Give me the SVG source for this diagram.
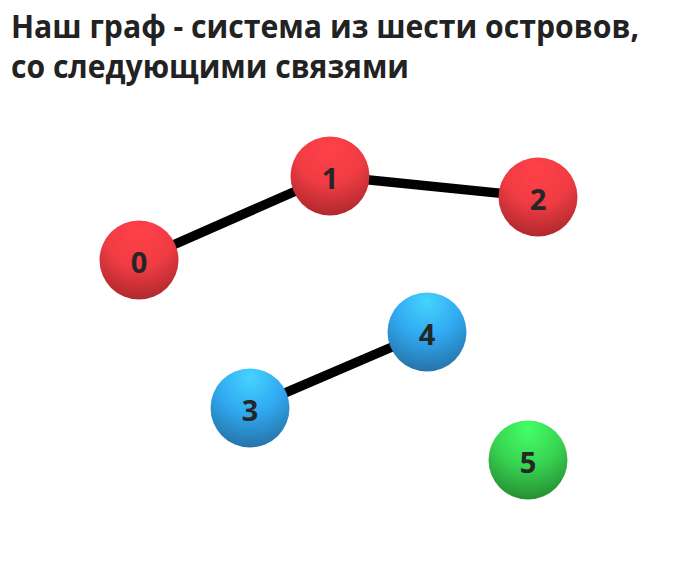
<svg xmlns="http://www.w3.org/2000/svg" width="696" height="564" viewBox="0 0 696 564">
<defs>
<radialGradient id="gRed" cx="0.5" cy="0.2" r="0.85" fx="0.5" fy="0.15">
<stop offset="0" stop-color="#ff4048"/>
<stop offset="0.5" stop-color="#f03c44"/>
<stop offset="1" stop-color="#a8262a"/>
</radialGradient>
<radialGradient id="gBlue" cx="0.5" cy="0.2" r="0.85" fx="0.5" fy="0.1">
<stop offset="0" stop-color="#45d4ff"/>
<stop offset="0.5" stop-color="#30a8f0"/>
<stop offset="1" stop-color="#246ea0"/>
</radialGradient>
<radialGradient id="gGreen" cx="0.5" cy="0.2" r="0.85" fx="0.5" fy="0.1">
<stop offset="0" stop-color="#44ff66"/>
<stop offset="0.5" stop-color="#38d452"/>
<stop offset="1" stop-color="#24882f"/>
</radialGradient>
</defs>
<style>
.title{font-family:"Open Sans","Noto Sans","Liberation Sans",sans-serif;font-weight:bold;font-size:32px;fill:#222}
.lbl{font-family:"Open Sans","Noto Sans","Liberation Sans",sans-serif;font-weight:bold;font-size:29px;fill:#262626;text-anchor:middle;dominant-baseline:central}
.edge{stroke:#000;stroke-width:9.5;fill:none}
</style>
<rect width="696" height="564" fill="#fff"/>
<text class="title" x="11" y="38" textLength="628" lengthAdjust="spacingAndGlyphs">Наш граф - система из шести островов,</text>
<text class="title" x="11" y="78" textLength="398" lengthAdjust="spacingAndGlyphs">со следующими связями</text>
<g id="edges">
<line class="edge" x1="139" y1="260" x2="330" y2="176"/>
<line class="edge" x1="330" y1="176" x2="538" y2="197"/>
<line class="edge" x1="250" y1="408" x2="427" y2="332"/>
</g>
<g id="node0"><circle cx="139" cy="260" r="39.5" fill="url(#gRed)"/><text class="lbl" x="139" y="261">0</text></g>
<g id="node1"><circle cx="330" cy="176" r="39.5" fill="url(#gRed)"/><text class="lbl" x="330" y="177">1</text></g>
<g id="node2"><circle cx="538" cy="197" r="39.5" fill="url(#gRed)"/><text class="lbl" x="538" y="198">2</text></g>
<g id="node3"><circle cx="250" cy="408" r="39.5" fill="url(#gBlue)"/><text class="lbl" x="250" y="409">3</text></g>
<g id="node4"><circle cx="427" cy="332" r="39.5" fill="url(#gBlue)"/><text class="lbl" x="427" y="333">4</text></g>
<g id="node5"><circle cx="528" cy="460" r="39.5" fill="url(#gGreen)"/><text class="lbl" x="528" y="461">5</text></g>
</svg>
